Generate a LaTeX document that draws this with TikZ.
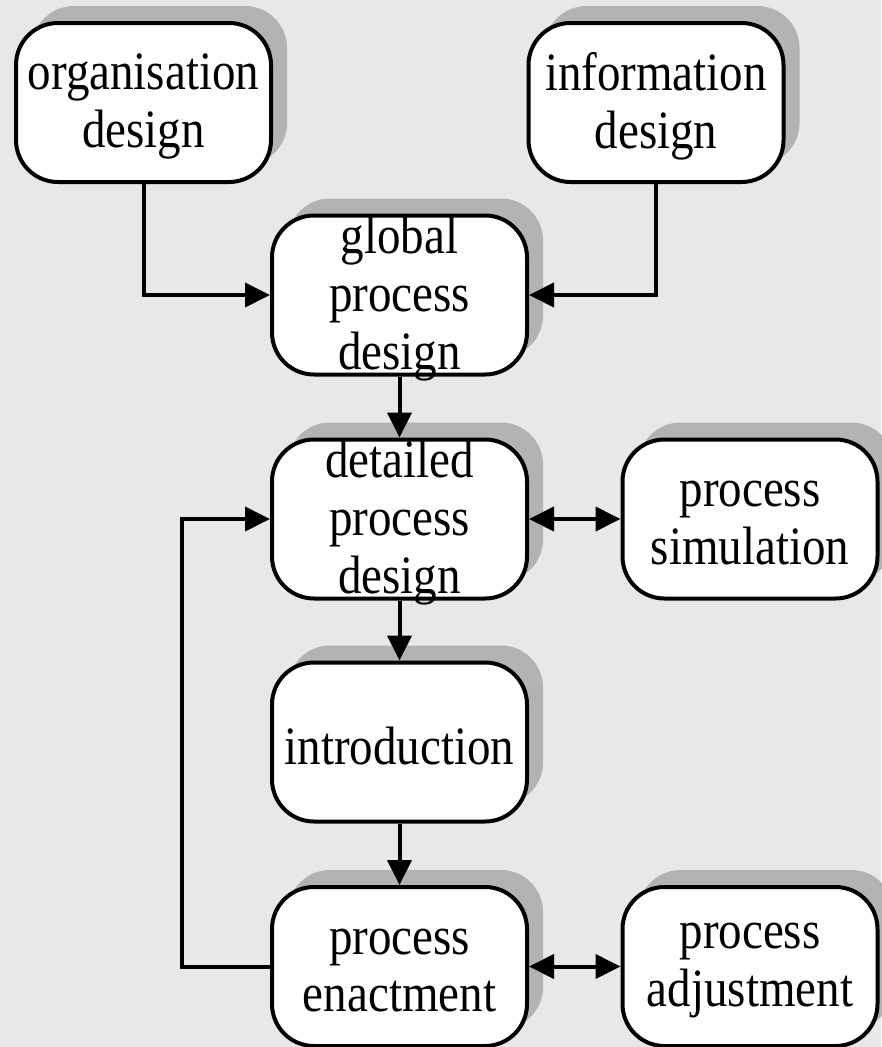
\documentclass[tikz,border=0pt]{standalone}
\usepackage{fontspec}
\setmainfont{Liberation Serif}
\usetikzlibrary{arrows.meta,shadows}
\definecolor{bgc}{HTML}{E8E8E8}
\definecolor{shadowc}{HTML}{B3B3B3}
\begin{document}
\begin{tikzpicture}[x=1pt,y=-1pt,
  stage/.style={draw=black, line width=4pt, fill=white,
    rounded corners=42pt, minimum width=255pt, minimum height=159pt,
    inner sep=0pt,
    drop shadow={shadow xshift=16pt, shadow yshift=17pt,
      fill=shadowc, draw=none, opacity=1}},
  caption/.style={inner sep=0pt, align=center,
    font=\fontsize{47}{50.4}\selectfont, yscale=1.15, transform shape},
  flow/.style={line width=4pt, -{Triangle[length=25pt,width=24pt]}},
  both/.style={line width=4pt, {Triangle[length=25pt,width=24pt]}-{Triangle[length=25pt,width=24pt]}}
]
% canvas
\fill[bgc] (0,0) rectangle (881,1047);
\useasboundingbox (0,0) rectangle (881,1047);

% stage boxes
\node[stage] (org)    at (143.5,102.5) {};
\node[stage] (info)   at (656,102.5)   {};
\node[stage] (global) at (399.5,295)   {};
\node[stage] (detail) at (399.5,519)   {};
\node[stage] (sim)    at (750,519)     {};
\node[stage] (intro)  at (399.5,742)   {};
\node[stage] (enact)  at (399.5,966.5) {};
\node[stage] (adjust) at (750,966.5)   {};

% stage names, set a little below each box centre
\node[caption] (org-t)    at ([yshift=-4pt]org.center)    {organisation\\design};
\node[caption] (info-t)   at ([yshift=-4pt]info.center)   {information\\design};
\node[caption] (global-t) at ([yshift=-4pt]global.center) {global\\process\\design};
\node[caption] (detail-t) at ([yshift=-4pt]detail.center) {detailed\\process\\design};
\node[caption] (sim-t)    at ([yshift=-4pt]sim.center)    {process\\simulation};
\node[caption] (intro-t)  at ([yshift=-4pt]intro.center)  {introduction};
\node[caption] (enact-t)  at ([yshift=-4pt]enact.center)  {process\\enactment};
\node[caption] (adjust-t) at ([yshift=-4pt]adjust.center) {process\\adjustment};

% connectors
\draw[flow] (org.south) |- (global.west);
\draw[flow] (info.south) |- (global.east);
\draw[flow] (global.south) -- (detail.north);
\draw[both] (detail.east) -- (sim.west);
\draw[flow] (detail.south) -- (intro.north);
\draw[flow] (intro.south) -- (enact.north);
\draw[both] (enact.east) -- (adjust.west);
\coordinate (loop) at (182,966.5);
\draw[flow] (enact.west) -- (loop) |- (detail.west);
\end{tikzpicture}
\end{document}
